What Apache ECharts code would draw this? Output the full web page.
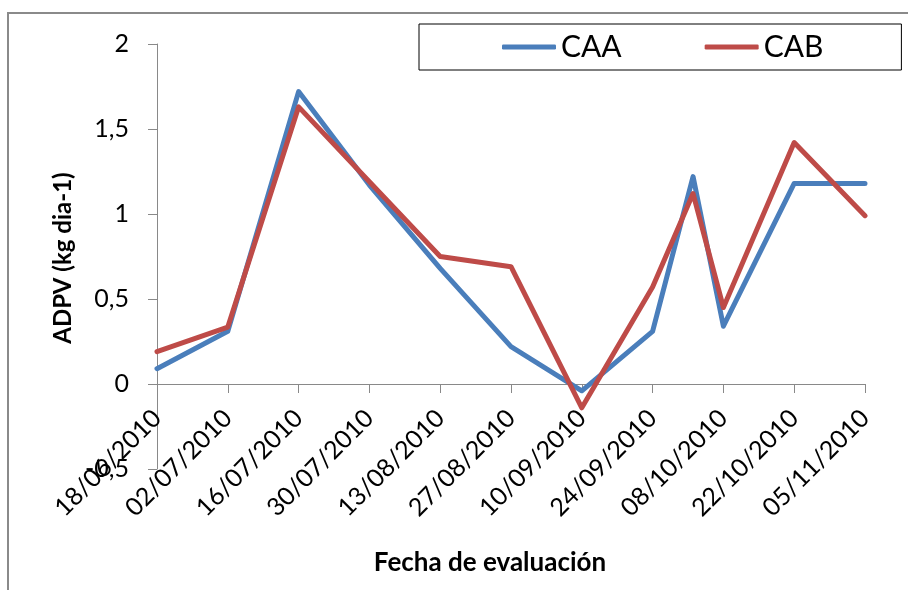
<!DOCTYPE html>
<html>
<head>
<meta charset="utf-8">
<script src="https://cdn.jsdelivr.net/npm/echarts@6/dist/echarts.min.js"></script>
<style>html,body{margin:0;padding:0;background:#fff;}#c{width:908px;height:590px;}</style>
</head>
<body>
<div id="c"></div>
<script>
const dates = ['18/06/2010','02/07/2010','16/07/2010','30/07/2010','13/08/2010','27/08/2010','10/09/2010','24/09/2010','02/10/2010','08/10/2010','22/10/2010','05/11/2010'];
const caa = [0.09, 0.31, 1.72, 1.17, 0.68, 0.22, -0.04, 0.31, 1.22, 0.34, 1.18, 1.18];
const cab = [0.19, 0.335, 1.63, 1.19, 0.75, 0.69, -0.14, 0.57, 1.12, 0.45, 1.42, 0.99];
const yTickLabels = ['-0,5', '0', '0,5', '1', '1,5', '2'];
const yTickValues = [-0.5, 0, 0.5, 1, 1.5, 2];
const startDate = '18/06/2010';
const endDate = '05/11/2010';

const DAY = 86400000;
function parseD(s){ const p = s.split('/'); return Date.UTC(+p[2], +p[1]-1, +p[0]); }
const t0 = parseD(startDate);
function dayOff(s){ return Math.round((parseD(s) - t0) / DAY); }
function fmt(d){ const dt = new Date(t0 + d*DAY); const dd = String(dt.getUTCDate()).padStart(2,'0'); const mm = String(dt.getUTCMonth()+1).padStart(2,'0'); return dd + '/' + mm + '/' + dt.getUTCFullYear(); }

const FONT = 'Lato';
const GRID = { left: 157, right: 43, top: 44, bottom: 121 };
const Y_MIN = -0.5, Y_MAX = 2;
// distance (px) from the bottom of the grid up to the zero line, so the date axis crosses at 0
const plotH = 590 - GRID.top - GRID.bottom;
const zeroOffset = -plotH * (0 - Y_MIN) / (Y_MAX - Y_MIN);

const chart = echarts.init(document.getElementById('c'));
chart.setOption({
  animation: false,
  backgroundColor: '#fff',
  grid: GRID,
  legend: {
    left: 419, top: 24,
    padding: [8, 78, 8, 83],
    borderColor: '#000', borderWidth: 1,
    itemWidth: 54, itemHeight: 5, itemGap: 83,
    icon: 'roundRect',
    textStyle: { fontFamily: FONT, fontSize: 30, color: '#000' },
    data: ['CAA', 'CAB']
  },
  xAxis: {
    type: 'value', min: 0, max: dayOff(endDate), interval: 14,
    offset: zeroOffset,
    splitLine: { show: false },
    axisLine: { onZero: false, lineStyle: { color: '#898989', width: 1 } },
    axisTick: { show: true, length: 9, lineStyle: { color: '#898989' } },
    axisLabel: { rotate: 45, margin: 30, fontFamily: FONT, fontSize: 25, color: '#000', formatter: v => fmt(v) }
  },
  yAxis: {
    type: 'value', min: Y_MIN, max: Y_MAX, interval: 0.5,
    splitLine: { show: false },
    axisLine: { show: true, lineStyle: { color: '#898989', width: 1 } },
    axisTick: { show: true, length: 9, lineStyle: { color: '#898989' } },
    axisLabel: { margin: 28, fontFamily: FONT, fontSize: 25, color: '#000',
      formatter: v => { const i = yTickValues.findIndex(x => Math.abs(x - v) < 1e-9); return i >= 0 ? yTickLabels[i] : ''; } }
  },
  graphic: [
    { type: 'rect', z: -10, shape: { x: 8, y: 13, width: 1000, height: 1000 }, style: { fill: 'none', stroke: '#8a8a8a', lineWidth: 2 } },
    { type: 'text', x: 63, y: 258, rotation: Math.PI/2, style: { text: 'ADPV (kg dia-1)', font: 'bold 24px ' + FONT, fill: '#000', align: 'center', verticalAlign: 'middle' } },
    { type: 'text', x: 490, y: 563, style: { text: 'Fecha de evaluación', font: 'bold 26px ' + FONT, fill: '#000', align: 'center', verticalAlign: 'middle' } }
  ],
  series: [
    { name: 'CAA', type: 'line', symbol: 'none', data: dates.map((d, i) => [dayOff(d), caa[i]]),
      lineStyle: { color: '#4A7EBB', width: 5, cap: 'round', join: 'round' }, itemStyle: { color: '#4A7EBB' } },
    { name: 'CAB', type: 'line', symbol: 'none', data: dates.map((d, i) => [dayOff(d), cab[i]]),
      lineStyle: { color: '#BE4B48', width: 5, cap: 'round', join: 'round' }, itemStyle: { color: '#BE4B48' } }
  ]
});
</script>
</body>
</html>
